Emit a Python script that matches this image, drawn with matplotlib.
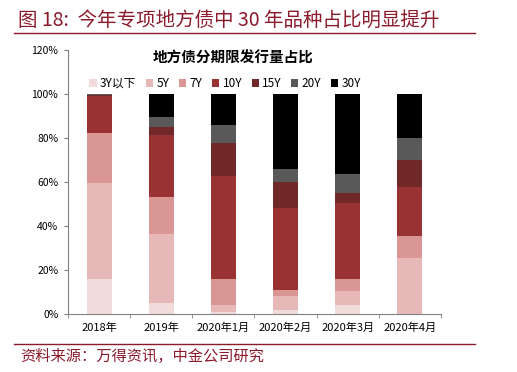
import matplotlib.pyplot as plt
import numpy as np

plt.rcParams['font.family'] = ['Noto Sans CJK SC', 'DejaVu Sans']

# Kategorien und Anteile (%)
categories = ['2018年', '2019年', '2020年1月', '2020年2月', '2020年3月', '2020年4月']
series_names = ['3Y以下', '5Y', '7Y', '10Y', '15Y', '20Y', '30Y']
y3_below = [16.0, 5.0, 1.0, 2.0, 4.0, 0.0]
y5 = [43.5, 31.5, 3.0, 6.0, 6.5, 25.3]
y7 = [22.5, 16.5, 12.0, 3.0, 5.5, 10.0]
y10 = [17.0, 28.5, 46.5, 37.0, 34.5, 22.5]
y15 = [0.5, 3.5, 15.0, 12.0, 4.5, 12.0]
y20 = [0.3, 4.5, 8.5, 6.0, 8.5, 10.0]
y30 = [0.2, 10.5, 14.0, 34.0, 36.5, 20.2]
yticks = [0, 20, 40, 60, 80, 100, 120]

colors = ['#F2DCDB', '#E6B9B8', '#D99694', '#993333', '#702828', '#595959', '#000000']
red = '#8B1A2B'

fig = plt.figure(figsize=(5.17, 3.72), dpi=100)
ax = fig.add_axes([0.1315, 0.156, 0.7215, 0.71])

x = np.arange(len(categories))
bottom = np.zeros(len(categories))
handles = []
for name, vals, c in zip(series_names, [y3_below, y5, y7, y10, y15, y20, y30], colors):
    b = ax.bar(x, vals, 0.4, bottom=bottom, color=c, label=name)
    bottom += np.array(vals)
    handles.append(b)

ax.set_xlim(-0.5, len(categories) - 0.5)
ax.set_ylim(0, 120)
ax.set_yticks(yticks)
ax.set_yticklabels([f'{v}%' for v in yticks], fontsize=7.5)
ax.set_xticks(x)
ax.set_xticklabels(categories, fontsize=8)
ax.set_xticks(np.arange(len(categories) + 1) - 0.5, minor=True)
ax.tick_params(axis='x', which='major', length=0, pad=6)
ax.tick_params(axis='x', which='minor', length=3, color='#808080')
ax.tick_params(axis='y', length=3, color='#808080', pad=4)
for s in ['top', 'right']:
    ax.spines[s].set_visible(False)
for s in ['left', 'bottom']:
    ax.spines[s].set_color('#808080')
    ax.spines[s].set_linewidth(0.8)

ax.legend(handles=handles, ncol=7, frameon=False, fontsize=8.5,
          loc='lower left', bbox_to_anchor=(0.045, 0.83), handlelength=0.6,
          handleheight=0.6, handletextpad=0.3, columnspacing=0.8,
          borderaxespad=0)

fig.text(0.451, 0.845, '地方债分期限发行量占比', ha='center', va='center',
         fontsize=10.5, fontweight='bold')

# Kopf- und Fusszeile
fig.text(0.035, 0.945, '图 18:  今年专项地方债中 30 年品种占比明显提升', ha='left',
         va='center', fontsize=14, color=red, style='italic')
fig.add_artist(plt.Line2D([0.027, 0.918], [0.912, 0.912], color=red, lw=1.0))
fig.add_artist(plt.Line2D([0.027, 0.918], [0.075, 0.075], color=red, lw=1.0))
fig.text(0.04, 0.043, '资料来源：万得资讯，中金公司研究', ha='left', va='center',
         fontsize=11, color=red, style='italic')

fig.savefig('out.png', dpi=100)
